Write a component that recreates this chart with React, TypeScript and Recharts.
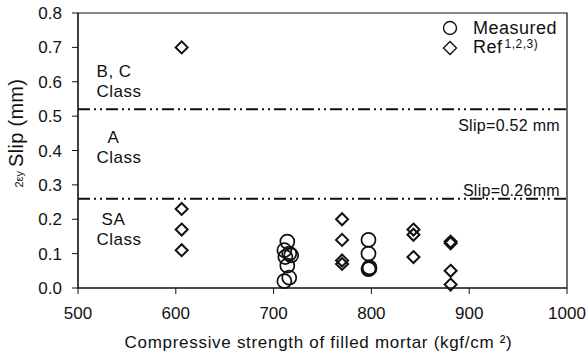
import {
  ScatterChart,
  Scatter,
  XAxis,
  YAxis,
  ReferenceLine,
  ReferenceArea,
  ReferenceDot,
} from 'recharts';

// Measured (circles)
const measuredX = [714, 711, 716, 712, 718, 714, 716, 711, 797, 797, 798, 797, 798];
const measuredY = [0.135, 0.11, 0.1, 0.09, 0.095, 0.065, 0.03, 0.02, 0.14, 0.1, 0.057, 0.055, 0.06];

// Ref 1,2,3) (diamonds)
const refX = [606, 606, 606, 606, 770, 770, 770, 770, 843, 843, 843, 881, 881, 881, 881];
const refY = [0.7, 0.23, 0.17, 0.11, 0.2, 0.14, 0.08, 0.07, 0.17, 0.155, 0.09, 0.135, 0.13, 0.05, 0.01];

const xTicks = [500, 600, 700, 800, 900, 1000];
const yTicks = [0, 0.1, 0.2, 0.3, 0.4, 0.5, 0.6, 0.7, 0.8];

const slipLimits = [0.52, 0.26];
const slipLabels = ['Slip=0.52 mm', 'Slip=0.26mm'];

const classNames = [['B, C', 'Class'], ['A', 'Class'], ['SA', 'Class']];
const classY = [0.63, 0.44, 0.2];

const measured = measuredX.map((x, i) => ({ x, y: measuredY[i] }));
const refs = refX.map((x, i) => ({ x, y: refY[i] }));

const FONT = '"Liberation Sans", Arial, sans-serif';
const INK = '#111';

const CircleMark = (props: any) => (
  <circle cx={props.cx} cy={props.cy} r={7} fill="none" stroke={INK} strokeWidth={1.7} />
);

const DiamondMark = (props: any) => {
  const { cx, cy } = props;
  const s = 6;
  return (
    <path
      d={`M${cx},${cy - s}L${cx + s},${cy}L${cx},${cy + s}L${cx - s},${cy}Z`}
      fill="none"
      stroke={INK}
      strokeWidth={2}
    />
  );
};

// legend drawn as an overlay so it doesn't eat plot space
const LegendBox = () => (
  <div
    style={{
      position: 'absolute',
      left: 442,
      top: 18,
      fontFamily: FONT,
      fontSize: 18,
      letterSpacing: 0.5,
      color: INK,
      lineHeight: '20px',
    }}
  >
    <div style={{ display: 'flex', alignItems: 'center', height: 20 }}>
      <svg width={16} height={16} style={{ marginRight: 15 }}>
        <circle cx={8} cy={8} r={6.5} fill="none" stroke={INK} strokeWidth={1.4} />
      </svg>
      <span>Measured</span>
    </div>
    <div style={{ display: 'flex', alignItems: 'center', height: 20 }}>
      <svg width={16} height={16} style={{ marginRight: 15 }}>
        <path d="M8,1.5L14.5,8L8,14.5L1.5,8Z" fill="none" stroke={INK} strokeWidth={1.4} />
      </svg>
      <span>
        Ref
        <span style={{ fontSize: 12, position: 'relative', top: -5, marginLeft: 2 }}>1,2,3)</span>
      </span>
    </div>
  </div>
);

const YLabel = ({ viewBox }: any) => {
  const start = viewBox.y + viewBox.height / 2 + 37;
  return (
    <text
      transform={`translate(23,${start}) rotate(-90)`}
      textAnchor="start"
      fontFamily={FONT}
      fill={INK}
    >
      <tspan fontSize={11} fill={INK}>2εy</tspan>
      <tspan fontSize={20} dx={4} letterSpacing={0.3} fill={INK}>Slip (mm)</tspan>
    </text>
  );
};

const XLabel = ({ viewBox }: any) => (
  <text
    x={viewBox.x + viewBox.width / 2 - 4}
    y={viewBox.y + 60}
    textAnchor="middle"
    fontSize={17}
    letterSpacing={0.7}
    fontFamily={FONT}
    fill={INK}
  >
    Compressive strength of filled mortar (kgf/cm ²)
  </text>
);

export default function App() {
  return (
    <div style={{ position: 'absolute', left: 0, top: 0, width: 588, height: 358, background: '#fff' }}>
      <ScatterChart
        width={588}
        height={358}
        margin={{ top: 13, right: 21, bottom: 0, left: 0 }}
        style={{ fontFamily: FONT }}
      >
        <XAxis
          type="number"
          dataKey="x"
          domain={[500, 1000]}
          ticks={xTicks}
          tickSize={6}
          tickMargin={13}
          height={70}
          axisLine={{ stroke: INK }}
          tickLine={{ stroke: INK }}
          tick={{ fill: INK, fontSize: 17 }}
          label={{ content: XLabel }}
        />
        <YAxis
          type="number"
          dataKey="y"
          domain={[0, 0.8]}
          ticks={yTicks}
          width={78}
          tickSize={6}
          tickMargin={10}
          tickFormatter={(v: number) => v.toFixed(1)}
          axisLine={{ stroke: INK }}
          tickLine={{ stroke: INK }}
          tick={{ fill: INK, fontSize: 17 }}
          label={{ content: YLabel }}
        />
        <ReferenceArea x1={500} x2={1000} y1={0} y2={0.8} fill="none" stroke={INK} strokeWidth={1.2} />
        {slipLimits.map((v, i) => (
          <ReferenceLine
            key={v}
            y={v}
            stroke={INK}
            strokeWidth={2}
            strokeDasharray="12 4 2 4 2 4"
            label={(p: any) => {
              const vb = p.viewBox;
              return (
                <text
                  x={vb.x + vb.width - 7}
                  y={i === 0 ? vb.y + 22 : vb.y - 3}
                  textAnchor="end"
                  fontSize={16}
                  letterSpacing={0.3}
                  fontFamily={FONT}
                  fill={INK}
                >
                  {slipLabels[i]}
                </text>
              );
            }}
          />
        ))}
        {classNames.map((lines, i) => (
          <ReferenceDot
            key={lines[0]}
            x={520}
            y={classY[i]}
            r={0}
            fill="none"
            stroke="none"
            label={(p: any) => {
              const vb = p.viewBox;
              const indent = i === 0 ? 0 : i === 1 ? 11 : 5;
              return (
                <text fontSize={17} letterSpacing={0.5} fontFamily={FONT} fill={INK}>
                  <tspan x={vb.x - 1 + indent} y={vb.y + 6}>{lines[0]}</tspan>
                  <tspan x={vb.x - 1} y={vb.y + 26}>{lines[1]}</tspan>
                </text>
              );
            }}
          />
        ))}
        <Scatter name="Measured" data={measured} shape={CircleMark} isAnimationActive={false} />
        <Scatter name="Ref" data={refs} shape={DiamondMark} isAnimationActive={false} />
      </ScatterChart>
      <LegendBox />
    </div>
  );
}
